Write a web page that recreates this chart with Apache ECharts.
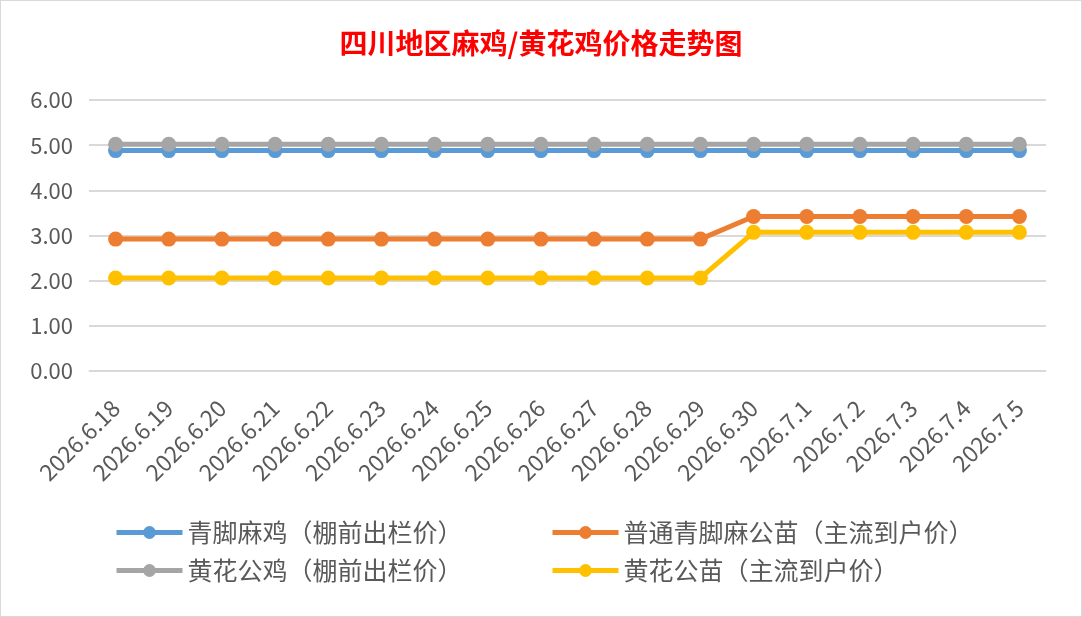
<!DOCTYPE html>
<html>
<head>
<meta charset="utf-8">
<script src="https://cdn.jsdelivr.net/npm/echarts@6/dist/echarts.min.js"></script>
<style>
  html, body { margin: 0; padding: 0; background: #fff; }
  #chart { width: 1082px; height: 617px; box-sizing: border-box; border: 1px solid #d9d9d9; }
</style>
</head>
<body>
<div id="chart"></div>
<script>
// dates on the x axis
const dates = [
  '2026.6.18', '2026.6.19', '2026.6.20', '2026.6.21', '2026.6.22', '2026.6.23',
  '2026.6.24', '2026.6.25', '2026.6.26', '2026.6.27', '2026.6.28', '2026.6.29',
  '2026.6.30', '2026.7.1', '2026.7.2', '2026.7.3', '2026.7.4', '2026.7.5'
]

// prices, yuan per jin
const qingjiaoHen = [4.88, 4.88, 4.88, 4.88, 4.88, 4.88, 4.88, 4.88, 4.88, 4.88, 4.88, 4.88, 4.88, 4.88, 4.88, 4.88, 4.88, 4.88]
const qingjiaoChick = [2.92, 2.92, 2.92, 2.92, 2.92, 2.92, 2.92, 2.92, 2.92, 2.92, 2.92, 2.92, 3.42, 3.42, 3.42, 3.42, 3.42, 3.42]
const huanghuaCock = [5.02, 5.02, 5.02, 5.02, 5.02, 5.02, 5.02, 5.02, 5.02, 5.02, 5.02, 5.02, 5.02, 5.02, 5.02, 5.02, 5.02, 5.02]
const huanghuaChick = [2.06, 2.06, 2.06, 2.06, 2.06, 2.06, 2.06, 2.06, 2.06, 2.06, 2.06, 2.06, 3.07, 3.07, 3.07, 3.07, 3.07, 3.07]

const seriesNames = [
  '青脚麻鸡（棚前出栏价）',
  '普通青脚麻公苗（主流到户价）',
  '黄花公鸡（棚前出栏价）',
  '黄花公苗（主流到户价）'
]

const FONT = '"Noto Sans CJK SC", "Noto Sans", sans-serif'
const TEXT_COLOR = '#595959'

const makeLine = (name, data, color) => ({
  name,
  type: 'line',
  data,
  symbol: 'circle',
  symbolSize: 15,
  color,
  lineStyle: { width: 5, color },
  itemStyle: { color }
})

const legendBase = {
  orient: 'vertical',
  itemWidth: 66,
  itemHeight: 16,
  itemGap: 13,
  lineStyle: { width: 5 },
  textStyle: { fontSize: 25, color: TEXT_COLOR, fontFamily: FONT },
  top: 514
}

const chart = echarts.init(document.getElementById('chart'))

chart.setOption({
  animation: false,
  title: {
    text: '四川地区麻鸡/黄花鸡价格走势图',
    left: 'center',
    top: 23,
    textStyle: { fontSize: 28, fontWeight: 'bold', color: '#ff0000', fontFamily: FONT }
  },
  legend: [
    { ...legendBase, left: 108, data: [seriesNames[0], seriesNames[2]] },
    { ...legendBase, left: 544, data: [seriesNames[1], seriesNames[3]] }
  ],
  grid: { left: 88, right: 35, top: 99, bottom: 245 },
  xAxis: {
    type: 'category',
    data: dates,
    boundaryGap: true,
    axisLine: { show: true, lineStyle: { color: '#d9d9d9' } },
    axisTick: { show: false },
    axisLabel: {
      interval: 0,
      rotate: 45,
      fontSize: 23,
      color: TEXT_COLOR,
      fontFamily: FONT,
      margin: 33
    }
  },
  yAxis: {
    type: 'value',
    min: 0,
    max: 6,
    interval: 1,
    axisLine: { show: false },
    axisTick: { show: false },
    splitLine: { lineStyle: { color: '#d9d9d9', width: 2 } },
    axisLabel: {
      formatter: (v) => v.toFixed(2),
      fontSize: 22,
      color: TEXT_COLOR,
      fontFamily: FONT,
      margin: 16
    }
  },
  series: [
    makeLine(seriesNames[0], qingjiaoHen, '#5B9BD5'),
    makeLine(seriesNames[1], qingjiaoChick, '#ED7D31'),
    makeLine(seriesNames[2], huanghuaCock, '#A5A5A5'),
    makeLine(seriesNames[3], huanghuaChick, '#FFC000')
  ]
})
</script>
</body>
</html>
